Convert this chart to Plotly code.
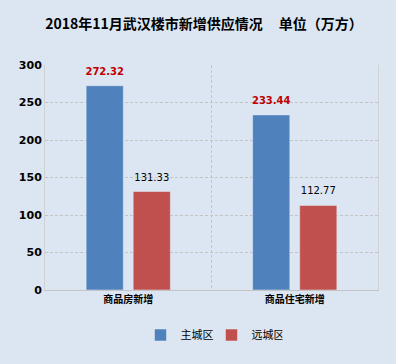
import plotly.graph_objects as go

categories = ["商品房新增", "商品住宅新增"]
main_city = [272.32, 233.44]
far_city = [131.33, 112.77]
series_names = ["主城区", "远城区"]
y_ticks = [0, 50, 100, 150, 200, 250, 300]

FONT = "Noto Sans CJK SC, Verdana, sans-serif"
NUMFONT = "Verdana, DejaVu Sans, sans-serif"
bg = "#DCE6F2"
colors = ["#4F81BD", "#C0504D"]
label_fonts = [dict(color="#C00000", size=10, family=NUMFONT, weight="bold"),
               dict(color="#000000", size=10, family=NUMFONT)]

fig = go.Figure()
for i, (name, vals, col) in enumerate(zip(series_names, [main_city, far_city], colors)):
    fig.add_trace(go.Bar(x=categories, y=vals, name=name, marker_color=col,
                         offsetgroup=f"bar{i}", alignmentgroup="bars"))
for i, (name, vals, tf) in enumerate(zip(series_names, [main_city, far_city], label_fonts)):
    fig.add_trace(go.Scatter(
        x=categories, y=vals, mode="markers+text", text=[f"{v:.2f}" for v in vals],
        marker=dict(size=12, color="rgba(0,0,0,0)"),
        textposition="top center", textfont=tf, showlegend=False,
        offsetgroup=f"lab{i}", alignmentgroup="labels", cliponaxis=False, hoverinfo="skip",
    ))

fig.update_layout(
    width=396, height=364,
    paper_bgcolor=bg, plot_bgcolor=bg,
    margin=dict(l=45, r=18, t=65, b=74, autoexpand=False),
    title=dict(text="<b>2018年11月武汉楼市新增供应情况     单位（万方）</b>",
               x=0.515, xanchor="center", y=1 - 24 / 364, yanchor="middle",
               font=dict(family=FONT, size=14, color="#000")),
    barmode="group", bargap=0.435, bargroupgap=0.21,
    scattermode="group", scattergap=0.435,
    showlegend=True,
    legend=dict(orientation="h", x=0.5, xanchor="center", y=-0.2, yanchor="middle",
                font=dict(family=FONT, size=11, color="#000"), bgcolor="rgba(0,0,0,0)",
                itemwidth=30, entrywidth=26, tracegroupgap=0),
    xaxis=dict(tickson="boundaries", showgrid=True, gridcolor="#C4C4C4", griddash="3px,2px",
               gridwidth=1, showline=True, linecolor="#C4C4C4", linewidth=1,
               ticks="", automargin=False,
               tickfont=dict(family=FONT, size=10, color="#000", weight="bold")),
    yaxis=dict(range=[0, 300], tickvals=y_ticks, showgrid=True, gridcolor="#C4C4C4",
               griddash="3px,2px", gridwidth=1, zeroline=False, ticks="", automargin=False,
               showline=True, mirror=True, linecolor="#D2D2D2", linewidth=1,
               tickfont=dict(family=NUMFONT, size=11, color="#000", weight="bold")),
)

fig.write_html("out.html", post_script="document.body.style.margin='0';",
               config={"displayModeBar": False})
